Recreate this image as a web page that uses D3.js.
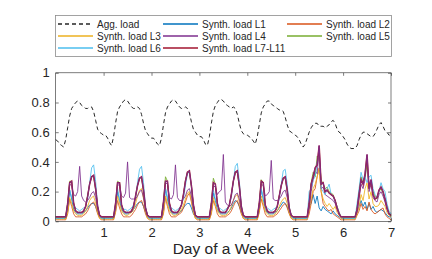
<!DOCTYPE html>
<html>
<head>
<meta charset="utf-8">
<script src="https://cdn.jsdelivr.net/npm/d3@7"></script>
<style>
body{margin:0;background:#fff;}
text{font-family:"Liberation Sans",Arial,Helvetica,sans-serif;}
</style>
</head>
<body>
<svg id="chart"></svg>
<script>
var width=432, height=259;

// hourly samples, 24 per day, one row per day, last value = day 7 0h
var agg=[
0.55,0.54,0.52,0.51,0.50,0.55,0.63,0.71,0.76,0.78,0.80,0.81,0.80,0.78,0.77,0.76,0.76,0.77,0.77,0.74,0.68,0.62,0.60,0.59,
0.58,0.58,0.56,0.53,0.51,0.57,0.66,0.74,0.77,0.79,0.81,0.82,0.81,0.79,0.77,0.76,0.76,0.77,0.76,0.72,0.66,0.61,0.59,0.57,
0.56,0.56,0.54,0.52,0.51,0.56,0.65,0.73,0.77,0.79,0.81,0.82,0.81,0.79,0.77,0.76,0.76,0.77,0.76,0.73,0.67,0.62,0.60,0.58,
0.57,0.57,0.55,0.52,0.51,0.57,0.66,0.74,0.78,0.80,0.82,0.82,0.81,0.79,0.78,0.77,0.76,0.77,0.76,0.72,0.66,0.61,0.59,0.58,
0.58,0.57,0.56,0.54,0.52,0.57,0.65,0.73,0.77,0.79,0.81,0.81,0.79,0.78,0.77,0.76,0.75,0.75,0.74,0.70,0.65,0.61,0.60,0.59,
0.58,0.57,0.55,0.52,0.50,0.52,0.56,0.60,0.63,0.65,0.66,0.66,0.64,0.64,0.64,0.63,0.64,0.65,0.67,0.68,0.66,0.62,0.60,0.59,
0.57,0.55,0.52,0.50,0.49,0.49,0.49,0.51,0.55,0.58,0.60,0.60,0.59,0.58,0.57,0.57,0.59,0.62,0.65,0.665,0.64,0.61,0.60,0.58,
0.58];
var l1=[
0.02,0.02,0.02,0.02,0.02,0.02,0.07,0.21,0.15,0.08,0.06,0.05,0.05,0.05,0.06,0.07,0.09,0.11,0.12,0.12,0.10,0.06,0.03,0.02,
0.02,0.02,0.02,0.02,0.02,0.02,0.08,0.20,0.14,0.08,0.06,0.05,0.05,0.06,0.06,0.08,0.10,0.12,0.13,0.13,0.10,0.06,0.03,0.02,
0.02,0.02,0.02,0.02,0.02,0.02,0.07,0.22,0.15,0.09,0.06,0.05,0.05,0.05,0.06,0.07,0.09,0.11,0.12,0.12,0.09,0.05,0.03,0.02,
0.02,0.02,0.02,0.02,0.02,0.02,0.07,0.19,0.14,0.08,0.06,0.05,0.05,0.05,0.06,0.07,0.09,0.12,0.14,0.13,0.10,0.06,0.03,0.02,
0.02,0.02,0.02,0.02,0.02,0.02,0.08,0.21,0.15,0.08,0.06,0.05,0.05,0.05,0.06,0.07,0.09,0.11,0.13,0.12,0.10,0.06,0.03,0.02,
0.02,0.02,0.02,0.02,0.02,0.02,0.02,0.10,0.12,0.18,0.12,0.17,0.09,0.07,0.10,0.08,0.07,0.06,0.05,0.07,0.05,0.04,0.03,0.02,
0.02,0.02,0.02,0.02,0.02,0.02,0.02,0.06,0.10,0.14,0.10,0.13,0.08,0.12,0.08,0.10,0.07,0.06,0.07,0.08,0.07,0.06,0.04,0.03,
0.03];
var l2=[
0.01,0.01,0.01,0.01,0.01,0.01,0.05,0.15,0.10,0.05,0.03,0.03,0.03,0.03,0.04,0.05,0.07,0.10,0.12,0.13,0.10,0.05,0.02,0.01,
0.01,0.01,0.01,0.01,0.01,0.01,0.06,0.14,0.09,0.05,0.03,0.03,0.03,0.03,0.04,0.06,0.08,0.11,0.13,0.14,0.10,0.05,0.02,0.01,
0.01,0.01,0.01,0.01,0.01,0.01,0.05,0.16,0.10,0.05,0.03,0.03,0.03,0.04,0.05,0.06,0.09,0.13,0.17,0.19,0.13,0.06,0.02,0.01,
0.01,0.01,0.01,0.01,0.01,0.01,0.05,0.14,0.10,0.05,0.03,0.03,0.03,0.03,0.04,0.05,0.07,0.10,0.13,0.14,0.10,0.05,0.02,0.01,
0.01,0.01,0.01,0.01,0.01,0.01,0.06,0.15,0.10,0.05,0.03,0.03,0.03,0.03,0.04,0.05,0.07,0.09,0.11,0.12,0.09,0.05,0.02,0.01,
0.01,0.01,0.01,0.01,0.01,0.01,0.01,0.05,0.12,0.20,0.22,0.30,0.36,0.20,0.12,0.10,0.08,0.07,0.08,0.05,0.04,0.03,0.02,0.01,
0.01,0.01,0.01,0.01,0.01,0.01,0.01,0.04,0.07,0.12,0.08,0.10,0.07,0.13,0.08,0.06,0.05,0.06,0.07,0.08,0.09,0.05,0.03,0.02,
0.01];
var l3=[
0.015,0.015,0.015,0.015,0.015,0.015,0.06,0.16,0.12,0.07,0.05,0.04,0.04,0.04,0.05,0.07,0.10,0.14,0.16,0.17,0.12,0.06,0.02,0.015,
0.015,0.015,0.015,0.015,0.015,0.015,0.07,0.17,0.12,0.07,0.05,0.04,0.04,0.05,0.06,0.08,0.12,0.17,0.21,0.22,0.15,0.07,0.02,0.015,
0.015,0.015,0.015,0.015,0.015,0.015,0.06,0.17,0.12,0.07,0.05,0.04,0.04,0.05,0.06,0.08,0.11,0.15,0.19,0.20,0.14,0.06,0.02,0.015,
0.015,0.015,0.015,0.015,0.015,0.015,0.06,0.16,0.11,0.07,0.05,0.04,0.04,0.04,0.05,0.07,0.10,0.14,0.17,0.18,0.13,0.06,0.02,0.015,
0.015,0.015,0.015,0.015,0.015,0.015,0.07,0.17,0.12,0.07,0.05,0.04,0.04,0.04,0.05,0.07,0.10,0.13,0.15,0.16,0.12,0.06,0.02,0.015,
0.015,0.015,0.015,0.015,0.015,0.015,0.015,0.08,0.15,0.22,0.25,0.30,0.35,0.20,0.15,0.12,0.10,0.12,0.10,0.08,0.10,0.06,0.04,0.02,
0.015,0.015,0.015,0.015,0.015,0.015,0.015,0.05,0.10,0.18,0.14,0.22,0.26,0.15,0.20,0.12,0.10,0.10,0.11,0.14,0.12,0.10,0.06,0.04,
0.03];
var l4=[
0.03,0.03,0.03,0.03,0.03,0.03,0.10,0.25,0.24,0.18,0.17,0.20,0.37,0.17,0.14,0.13,0.14,0.16,0.19,0.20,0.16,0.08,0.04,0.03,
0.03,0.03,0.03,0.03,0.03,0.03,0.09,0.24,0.25,0.17,0.16,0.19,0.40,0.16,0.15,0.15,0.15,0.17,0.20,0.21,0.16,0.08,0.04,0.03,
0.03,0.03,0.03,0.03,0.03,0.03,0.10,0.26,0.25,0.16,0.15,0.18,0.38,0.16,0.14,0.14,0.15,0.17,0.21,0.22,0.17,0.08,0.04,0.03,
0.03,0.03,0.03,0.03,0.03,0.03,0.09,0.24,0.23,0.18,0.20,0.21,0.45,0.13,0.11,0.10,0.11,0.14,0.18,0.19,0.15,0.07,0.04,0.03,
0.03,0.03,0.03,0.03,0.03,0.03,0.10,0.25,0.24,0.17,0.18,0.20,0.41,0.15,0.14,0.14,0.15,0.17,0.20,0.21,0.16,0.08,0.04,0.03,
0.03,0.03,0.03,0.03,0.03,0.03,0.03,0.08,0.20,0.28,0.34,0.32,0.48,0.22,0.23,0.18,0.17,0.16,0.15,0.14,0.12,0.08,0.05,0.03,
0.03,0.03,0.03,0.03,0.03,0.03,0.03,0.06,0.15,0.25,0.22,0.28,0.42,0.20,0.25,0.16,0.14,0.13,0.18,0.20,0.17,0.13,0.08,0.05,
0.04];
var l5=[
0.025,0.025,0.025,0.025,0.025,0.025,0.12,0.27,0.27,0.12,0.07,0.06,0.06,0.06,0.07,0.10,0.17,0.25,0.30,0.30,0.21,0.10,0.04,0.025,
0.025,0.025,0.025,0.025,0.025,0.025,0.12,0.27,0.26,0.11,0.07,0.06,0.06,0.06,0.07,0.10,0.16,0.24,0.29,0.29,0.20,0.09,0.04,0.025,
0.025,0.025,0.025,0.025,0.025,0.025,0.13,0.30,0.27,0.12,0.07,0.06,0.06,0.06,0.08,0.11,0.18,0.27,0.33,0.33,0.23,0.11,0.04,0.025,
0.025,0.025,0.025,0.025,0.025,0.025,0.12,0.29,0.25,0.12,0.07,0.06,0.06,0.06,0.08,0.11,0.18,0.27,0.33,0.33,0.23,0.10,0.04,0.025,
0.025,0.025,0.025,0.025,0.025,0.025,0.12,0.28,0.26,0.11,0.07,0.06,0.06,0.06,0.07,0.10,0.17,0.24,0.29,0.29,0.20,0.09,0.04,0.025,
0.025,0.025,0.025,0.025,0.025,0.025,0.025,0.12,0.26,0.33,0.30,0.44,0.42,0.28,0.25,0.22,0.23,0.20,0.19,0.18,0.14,0.10,0.06,0.03,
0.025,0.025,0.025,0.025,0.025,0.025,0.025,0.09,0.20,0.30,0.26,0.30,0.38,0.24,0.26,0.20,0.17,0.15,0.20,0.22,0.19,0.15,0.10,0.06,
0.04];
var l6=[
0.02,0.02,0.02,0.02,0.02,0.03,0.12,0.21,0.16,0.11,0.09,0.08,0.07,0.08,0.09,0.10,0.15,0.26,0.36,0.38,0.27,0.11,0.04,0.02,
0.02,0.02,0.02,0.02,0.02,0.03,0.11,0.22,0.15,0.10,0.08,0.08,0.07,0.08,0.09,0.11,0.16,0.26,0.35,0.37,0.26,0.10,0.04,0.02,
0.02,0.02,0.02,0.02,0.02,0.03,0.12,0.22,0.16,0.10,0.09,0.08,0.07,0.08,0.09,0.11,0.15,0.24,0.32,0.33,0.24,0.10,0.04,0.02,
0.02,0.02,0.02,0.02,0.02,0.03,0.12,0.21,0.15,0.10,0.09,0.08,0.07,0.08,0.09,0.11,0.16,0.27,0.37,0.39,0.27,0.11,0.04,0.02,
0.02,0.02,0.02,0.02,0.02,0.03,0.11,0.22,0.16,0.10,0.09,0.08,0.07,0.08,0.09,0.10,0.15,0.25,0.34,0.35,0.25,0.10,0.04,0.02,
0.02,0.02,0.02,0.02,0.02,0.02,0.02,0.20,0.22,0.28,0.30,0.40,0.45,0.22,0.20,0.18,0.22,0.25,0.18,0.17,0.13,0.10,0.06,0.03,
0.02,0.02,0.02,0.02,0.02,0.02,0.02,0.12,0.22,0.33,0.28,0.30,0.26,0.30,0.31,0.22,0.18,0.16,0.20,0.26,0.22,0.20,0.12,0.07,
0.05];
var l7=[
0.03,0.03,0.03,0.03,0.03,0.03,0.12,0.26,0.27,0.12,0.07,0.06,0.06,0.06,0.07,0.10,0.17,0.25,0.30,0.31,0.22,0.10,0.04,0.03,
0.03,0.03,0.03,0.03,0.03,0.03,0.12,0.26,0.26,0.11,0.07,0.06,0.06,0.06,0.07,0.10,0.17,0.24,0.29,0.30,0.21,0.09,0.04,0.03,
0.03,0.03,0.03,0.03,0.03,0.03,0.13,0.27,0.27,0.12,0.07,0.06,0.06,0.06,0.08,0.11,0.18,0.27,0.33,0.34,0.24,0.11,0.04,0.03,
0.03,0.03,0.03,0.03,0.03,0.03,0.12,0.26,0.25,0.12,0.07,0.06,0.06,0.06,0.08,0.11,0.18,0.27,0.33,0.34,0.24,0.10,0.04,0.03,
0.03,0.03,0.03,0.03,0.03,0.03,0.12,0.27,0.26,0.11,0.07,0.06,0.06,0.06,0.07,0.10,0.17,0.24,0.29,0.30,0.21,0.09,0.04,0.03,
0.03,0.03,0.03,0.03,0.03,0.03,0.03,0.12,0.25,0.30,0.36,0.38,0.51,0.25,0.26,0.20,0.21,0.19,0.18,0.17,0.14,0.09,0.05,0.03,
0.03,0.03,0.03,0.03,0.03,0.03,0.03,0.08,0.18,0.28,0.25,0.32,0.45,0.22,0.28,0.18,0.15,0.16,0.21,0.23,0.20,0.15,0.09,0.05,
0.04];

var xTicks=[1,2,3,4,5,6,7];
var yTicks=[0,0.2,0.4,0.6,0.8,1];
var names=["Agg. load","Synth. load L1","Synth. load L2","Synth. load L3","Synth. load L4","Synth. load L5","Synth. load L6","Synth. load L7-L11"];
var colors=["#262626","#0072BD","#D95319","#EDB120","#7E2F8E","#77AC30","#4DBEEE","#A2142F"];

// plot box (note: "top" is reserved on window)
var pLeft=55.7, pRight=391, pTop=72.8, pBottom=221.3;
var svg=d3.select("#chart").attr("width",width).attr("height",height);

var x=d3.scaleLinear().domain([0,7]).range([pLeft,pRight]);
var y=d3.scaleLinear().domain([0,1]).range([pBottom,pTop]);

var line=d3.line()
  .x(function(d,i){return x(i/24);})
  .y(function(d){return y(d);});

var series=[agg,l1,l2,l3,l4,l5,l6,l7];

// agg dashed
svg.append("path")
  .datum(agg)
  .attr("fill","none")
  .attr("stroke",colors[0])
  .attr("stroke-width",1)
  .attr("stroke-dasharray","4,3")
  .attr("d",line);

for(var k=1;k<7;k++){
  svg.append("path")
    .datum(series[k])
    .attr("fill","none")
    .attr("stroke",colors[k])
    .attr("stroke-width",0.85)
    .attr("d",line);
}
// L7-L11: red underneath, purple copy (L11) on top
svg.append("path")
  .datum(l7)
  .attr("fill","none")
  .attr("stroke",colors[7])
  .attr("stroke-width",1.5)
  .attr("d",line);
svg.append("path")
  .datum(l7)
  .attr("fill","none")
  .attr("stroke","#7E2F8E")
  .attr("stroke-width",0.9)
  .attr("d",line);

// axes, ticks inward
var axCol="#262626";
var gx=svg.append("g").attr("transform","translate(0,"+pBottom+")")
  .call(d3.axisBottom(x).tickValues(xTicks).tickSizeInner(-3).tickSizeOuter(0).tickPadding(6).tickFormat(d3.format("d")));
var gxt=svg.append("g").attr("transform","translate(0,"+pTop+")")
  .call(d3.axisTop(x).tickValues(xTicks).tickSizeInner(-3).tickSizeOuter(0).tickFormat(""));
var gy=svg.append("g").attr("transform","translate("+pLeft+",0)")
  .call(d3.axisLeft(y).tickValues(yTicks).tickSizeInner(-3).tickSizeOuter(0).tickPadding(6).tickFormat(function(d){return d===0||d===1?d:d.toFixed(1);}));
var gyr=svg.append("g").attr("transform","translate("+pRight+",0)")
  .call(d3.axisRight(y).tickValues(yTicks).tickSizeInner(-3).tickSizeOuter(0).tickFormat(""));
[gx,gxt,gy,gyr].forEach(function(g){
  g.select(".domain").remove();
  g.selectAll("line").attr("stroke",axCol).attr("stroke-width",0.6);
  g.selectAll("text").attr("fill",axCol).attr("font-size",13).attr("font-family","Liberation Sans, Arial, sans-serif");
});
svg.append("rect")
  .attr("x",pLeft).attr("y",pTop)
  .attr("width",pRight-pLeft).attr("height",pBottom-pTop)
  .attr("fill","none").attr("stroke",axCol).attr("stroke-width",0.6);

svg.append("text")
  .attr("x",(pLeft+pRight)/2).attr("y",254)
  .attr("text-anchor","middle")
  .attr("font-size",15.5)
  .attr("fill",axCol)
  .text("Day of a Week");

// legend
svg.append("rect")
  .attr("x",55.5).attr("y",15.5)
  .attr("width",336).attr("height",41)
  .attr("fill","#fff").attr("stroke","#8c8c8c").attr("stroke-width",0.8);
var colX=[58,163,287];
var rowY=[24,35.5,47.5];
for(var j=0;j<names.length;j++){
  var cx=colX[j%3], cy=Math.round(rowY[Math.floor(j/3)]);
  svg.append("line")
    .attr("x1",cx).attr("x2",cx+35)
    .attr("y1",cy).attr("y2",cy)
    .attr("stroke",colors[j])
    .attr("stroke-width",1.3)
    .attr("stroke-dasharray",j===0?"4,3":null);
  svg.append("text")
    .attr("x",cx+39).attr("y",cy+3.5)
    .attr("font-size",10)
    .attr("fill","#262626")
    .text(names[j]);
}
</script>
</body>
</html>
